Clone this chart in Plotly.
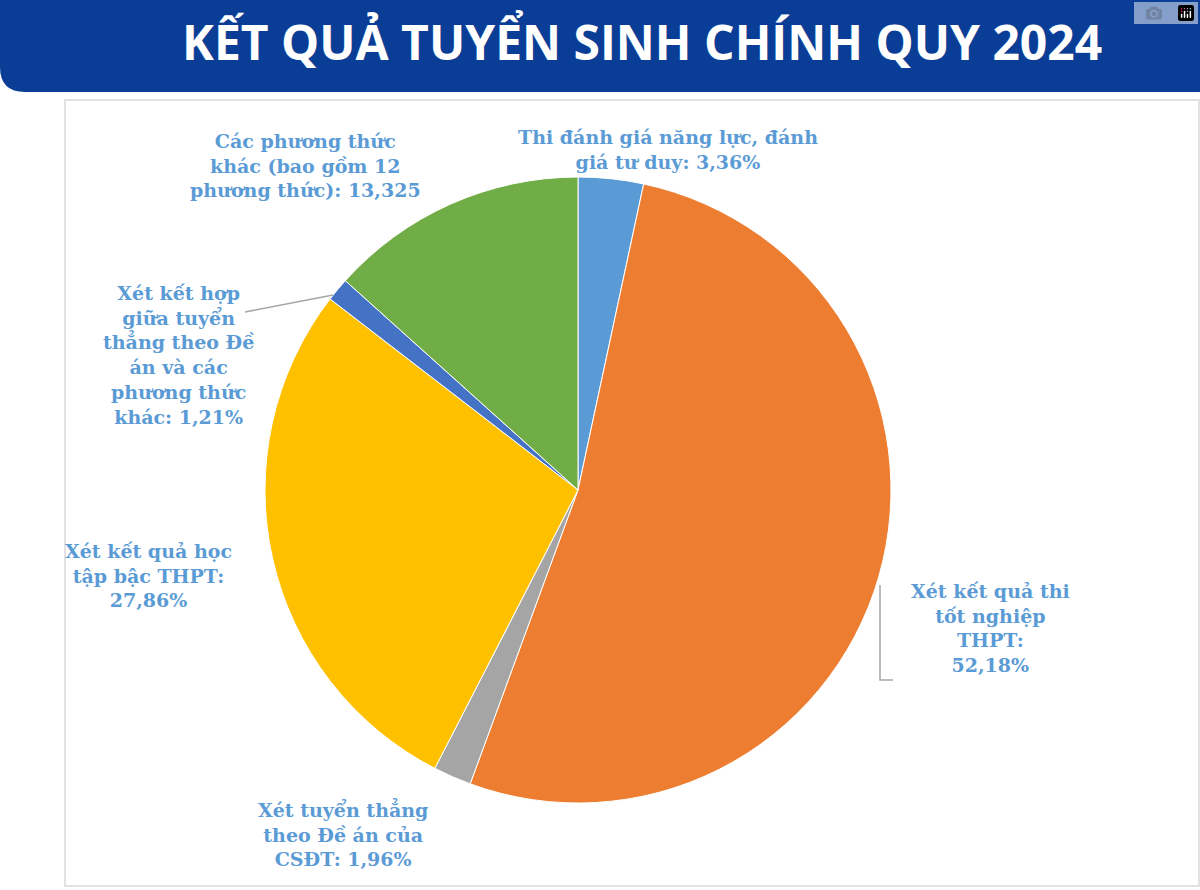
import plotly.graph_objects as go

labels = ["Thi đánh giá năng lực, đánh giá tư duy", "Xét kết quả thi tốt nghiệp THPT",
          "Xét tuyển thẳng theo Đề án của CSĐT", "Xét kết quả học tập bậc THPT",
          "Xét kết hợp giữa tuyển thẳng theo Đề án và các phương thức khác",
          "Các phương thức khác (bao gồm 12 phương thức)"]
values = [3.36, 52.18, 1.96, 27.86, 1.21, 13.325]
colors = ["#5b9bd5", "#ed7d31", "#a5a5a5", "#ffc000", "#4472c4", "#70ad47"]

label_texts = [
    "Thi đánh giá năng lực, đánh<br>giá tư duy: 3,36%",
    "Xét kết quả thi<br>tốt nghiệp<br>THPT:<br>52,18%",
    "Xét tuyển thẳng<br>theo Đề án của<br>CSĐT: 1,96%",
    "Xét kết quả học<br>tập bậc THPT:<br>27,86%",
    "Xét kết hợp<br>giữa tuyển<br>thẳng theo Đề<br>án và các<br>phương thức<br>khác: 1,21%",
    "Các phương thức<br>khác (bao gồm 12<br>phương thức): 13,325",
]
label_pos = [(668, 150), (990, 628), (343, 833), (148, 575), (178, 355), (305, 165)]

W, H = 1200, 890
fig = go.Figure(go.Pie(labels=labels, values=values, sort=False, direction="clockwise",
                       rotation=0, textinfo="none", hoverinfo="label+percent",
                       marker=dict(colors=colors, line=dict(color="white", width=1)),
                       domain=dict(x=[265 / W, 891 / W], y=[87 / H, 713 / H]),
                       showlegend=False))

shapes = [
    # chart frame
    dict(type="rect", xref="paper", yref="paper", x0=65 / W, x1=1199 / W, y0=1 - 886 / H, y1=1 - 100 / H,
         line=dict(color="#d9d9d9", width=1.5), fillcolor="white", layer="below"),
    # title banner with rounded bottom-left corner
    dict(type="path", xref="paper", yref="paper",
         path="M 0,1 L 1,1 L 1,%f L %f,%f Q 0,%f 0,%f Z" % (1 - 92 / H, 25 / W, 1 - 92 / H, 1 - 92 / H, 1 - 67 / H),
         fillcolor="#0a3e96", line=dict(width=0)),
    # leader lines
    dict(type="path", xref="paper", yref="paper",
         path="M %f,%f L %f,%f L %f,%f" % (880 / W, 1 - 585 / H, 880 / W, 1 - 680 / H, 893 / W, 1 - 680 / H),
         line=dict(color="#a6a6a6", width=1.5)),
    dict(type="line", xref="paper", yref="paper", x0=333 / W, y0=1 - 295 / H, x1=245 / W, y1=1 - 312 / H,
         line=dict(color="#a6a6a6", width=1.5)),
]

annotations = [dict(text="KẾT QUẢ TUYỂN SINH CHÍNH QUY 2024", x=642 / W, y=1 - 42 / H,
                    xref="paper", yref="paper", showarrow=False, xanchor="center", yanchor="middle",
                    font=dict(family="Open Sans", size=48, color="white", weight="bold"))]
for t, (px, py) in zip(label_texts, label_pos):
    annotations.append(dict(text=t, x=px / W, y=1 - py / H, xref="paper", yref="paper",
                            showarrow=False, align="center", xanchor="center", yanchor="middle",
                            font=dict(family="DejaVu Serif", size=19, color="#5b9bd5", weight="bold")))

fig.update_layout(width=W, height=H, margin=dict(l=0, r=0, t=0, b=0),
                  paper_bgcolor="white", shapes=shapes, annotations=annotations)
fig.write_html("out.html", post_script="document.body.style.margin='0';")
